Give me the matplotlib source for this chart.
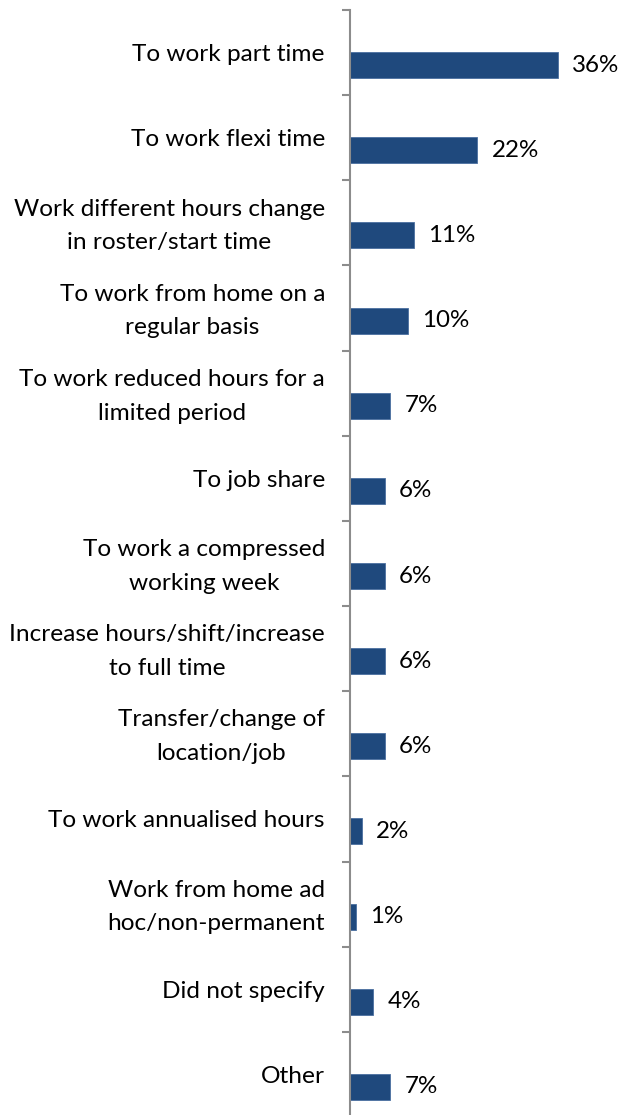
import matplotlib
matplotlib.use("Agg")
import matplotlib.pyplot as plt
import matplotlib.transforms as mtransforms
import numpy as np

# categories and shares of requests (percent)
categories = [
    "To work part time",
    "To work flexi time",
    "Work different hours change\nin roster/start time",
    "To work from home on a\nregular basis",
    "To work reduced hours for a\nlimited period",
    "To job share",
    "To work a compressed\nworking week",
    "Increase hours/shift/increase\nto full time",
    "Transfer/change of\nlocation/job",
    "To work annualised hours",
    "Work from home ad\nhoc/non-permanent",
    "Did not specify",
    "Other",
]
shares = [36, 22, 11, 10, 7, 6, 6, 6, 6, 2, 1, 4, 7]

bar_colour = "#1F497D"
axis_colour = "#8C8C8C"
plt.rcParams["font.family"] = ["Lato", "DejaVu Sans"]

fig = plt.figure(figsize=(6.22, 11.15), dpi=100)
ax = fig.add_axes([350 / 622, -2 / 1115, 231 / 622, 1107 / 1115])

n = len(categories)
pos = np.arange(n)
# bars sit in the lower part of each band
ax.barh(pos + 0.147, shares, height=0.305, color=bar_colour,
        edgecolor="#4A6FA0", linewidth=0.6)

for p, v in zip(pos, shares):
    ax.text(v + 2.5, p + 0.147, f"{v}%", va="center", ha="left",
            fontsize=17.4, color="black")

ax.set_xlim(0, 40)
ax.set_ylim(n - 0.5, -0.5)

# category labels, right aligned left of the axis
one_line = ax.get_yaxis_transform() + mtransforms.ScaledTranslation(
    -0.25, -0.02, fig.dpi_scale_trans)
two_line = ax.get_yaxis_transform() + mtransforms.ScaledTranslation(
    -0.25, -0.03, fig.dpi_scale_trans)
for p, name in zip(pos, categories):
    ax.text(0, p, name, ha="right", va="center", multialignment="center",
            linespacing=1.75, fontsize=17.6,
            transform=two_line if "\n" in name else one_line)

ax.set_yticks(np.arange(n + 1) - 0.5)
ax.set_yticklabels([])
ax.tick_params(axis="y", length=6, width=1.5, color=axis_colour,
               direction="out")

ax.set_xticks([])
for side in ["top", "right", "bottom"]:
    ax.spines[side].set_visible(False)
ax.spines["left"].set_color(axis_colour)
ax.spines["left"].set_linewidth(1.5)

fig.savefig("out.png", dpi=100)
